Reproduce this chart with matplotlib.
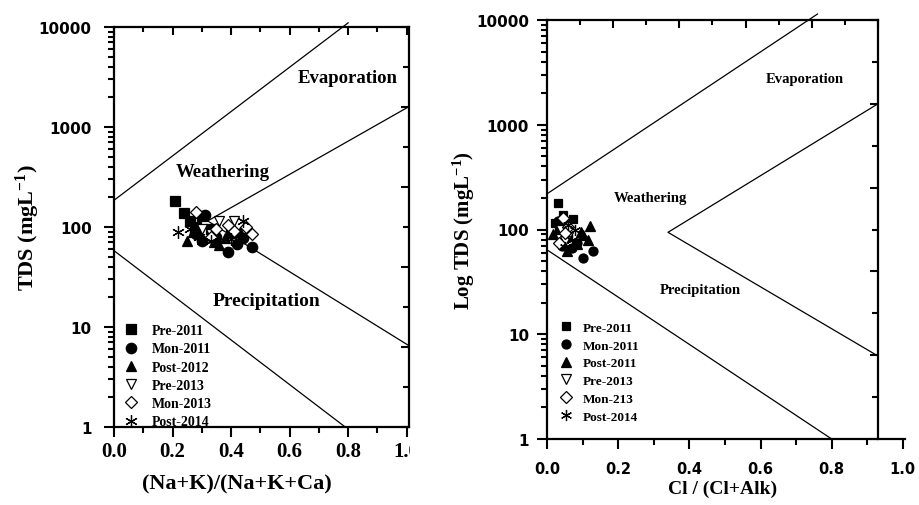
import numpy as np
import matplotlib
matplotlib.use("Agg")
import matplotlib.pyplot as plt
from matplotlib.ticker import LogLocator, NullFormatter
from matplotlib.transforms import Bbox

plt.rcParams["font.family"] = "Liberation Serif"
plt.rcParams["font.weight"] = "bold"
plt.rcParams["mathtext.fontset"] = "custom"
plt.rcParams["mathtext.rm"] = "Liberation Serif:bold"
plt.rcParams["mathtext.it"] = "Liberation Serif:bold"
plt.rcParams["mathtext.bf"] = "Liberation Serif:bold"

# cation plot: (Na+K)/(Na+K+Ca) vs TDS
cat_labels = ["Pre-2011", "Mon-2011", "Post-2012", "Pre-2013", "Mon-2013", "Post-2014"]
cat_pre11_x = [0.21, 0.24, 0.26, 0.30, 0.28, 0.33, 0.40]
cat_pre11_y = [180, 138, 115, 128, 100, 95, 88]
cat_mon11_x = [0.39, 0.47, 0.42, 0.30, 0.35, 0.28, 0.31, 0.44]
cat_mon11_y = [56, 63, 68, 72, 80, 85, 132, 78]
cat_post12_x = [0.25, 0.30, 0.34, 0.38, 0.43, 0.27, 0.36]
cat_post12_y = [72, 75, 70, 78, 90, 90, 66]
cat_pre13_x = [0.36, 0.41, 0.30, 0.33]
cat_pre13_y = [115, 115, 95, 85]
cat_mon13_x = [0.28, 0.35, 0.47, 0.41, 0.33, 0.45, 0.39]
cat_mon13_y = [140, 95, 85, 91, 80, 100, 105]
cat_post14_x = [0.22, 0.44, 0.29, 0.33, 0.40, 0.26]
cat_post14_y = [90, 115, 80, 72, 75, 95]

# anion plot: Cl/(Cl+Alk) vs TDS
an_labels = ["Pre-2011", "Mon-2011", "Post-2011", "Pre-2013", "Mon-213", "Post-2014"]
an_pre11_x = [0.03, 0.022, 0.045, 0.073, 0.05, 0.035]
an_pre11_y = [181, 116, 139, 127, 110, 100]
an_mon11_x = [0.10, 0.13, 0.042, 0.07, 0.055, 0.085, 0.03]
an_mon11_y = [54, 62, 69, 66, 85, 75, 120]
an_post11_x = [0.12, 0.115, 0.095, 0.056, 0.018, 0.085, 0.10]
an_post11_y = [108, 80, 95, 62, 90, 72, 88]
an_pre13_x = [0.04, 0.06, 0.05]
an_pre13_y = [100, 85, 78]
an_mon13_x = [0.045, 0.06, 0.035, 0.05]
an_mon13_y = [130, 105, 75, 92]
an_post14_x = [0.06, 0.07, 0.05, 0.08]
an_post14_y = [110, 80, 68, 100]

# Gibbs boundary lines (x, TDS)
cat_evap_x, cat_evap_y = [0.0, 0.80], [185, 11000]
cat_prec_x, cat_prec_y = [0.0, 0.79], [58, 1]
cat_v_x, cat_v_y = [1.008, 0.32, 1.008], [1600, 115, 6.5]
an_evap_x, an_evap_y = [0.0, 0.76], [219, 11400]
an_prec_x, an_prec_y = [0.0, 0.80], [64, 1]
an_v_x, an_v_y = [0.93, 0.34, 0.93], [1585, 94, 6.2]

MARKERS = [
    ("s", "black"),
    ("o", "black"),
    ("^", "black"),
    ("v", "white"),
    ("D", "white"),
    ((6, 2, 0), "black"),
]

fig = plt.figure(figsize=(9.19, 5.06), dpi=100)
ax1 = fig.add_axes([114 / 919, 1 - 428 / 506, 295 / 919, 400 / 506])
ax2 = fig.add_axes([547 / 919, 1 - 440 / 506, 358 / 919, 419 / 506])


def draw_points(ax, xs, ys, labels, sizes):
    for x, y, lab, (mk, fc), ms in zip(xs, ys, labels, MARKERS, sizes):
        ax.plot(x, y, linestyle="none", marker=mk, markersize=ms,
                markerfacecolor=fc, markeredgecolor="black",
                markeredgewidth=0.9, label=lab, zorder=3)


def setup_axes(ax, xmax, right_at, top_ticks, xlab_font, xlab_size, xpad,
               ypad):
    # spine moves reset the tick objects, so do them before styling ticks
    if right_at is not None:
        ax.spines["right"].set_position(("data", right_at))
        ax.spines["top"].set_bounds(0, right_at)
    ax.set_yscale("log")
    ax.set_ylim(1, 10000)
    ax.set_xlim(0, xmax)
    ax.set_yticks([1, 10, 100, 1000, 10000],
                  labels=["1", "10", "100", "1000", "10000"],
                  fontfamily="DejaVu Sans", fontweight="bold", fontsize=11)
    ax.yaxis.set_minor_locator(LogLocator(base=10, subs=np.arange(2, 10)))
    ax.yaxis.set_minor_formatter(NullFormatter())
    ax.set_xticks(np.arange(0, 1.01, 0.2),
                  labels=["0.0", "0.2", "0.4", "0.6", "0.8", "1.0"],
                  fontfamily=xlab_font, fontweight="bold", fontsize=xlab_size)
    ax.set_xticks(np.arange(0.1, 1.0, 0.2), minor=True)
    ax.tick_params(which="both", direction="out", width=1.5,
                   top=False, right=False)
    ax.tick_params(which="major", length=7)
    ax.tick_params(which="minor", length=4)
    ax.tick_params(axis="x", pad=xpad)
    ax.tick_params(axis="y", pad=ypad)
    for s in ax.spines.values():
        s.set_linewidth(1.6)

    # inward ticks along the top spine
    tw = ax.twiny()
    tw.set_xlim(ax.get_xlim())
    tw.set_xticks(top_ticks[0])
    tw.set_xticks(top_ticks[1], minor=True)
    tw.tick_params(which="both", direction="in", width=1.5, labeltop=False)
    tw.tick_params(which="major", length=6)
    tw.tick_params(which="minor", length=3.5)
    for s in tw.spines.values():
        s.set_visible(False)

    # ten evenly spaced inward ticks along the right spine
    rt = ax.twinx()
    if right_at is not None:
        rt.spines["right"].set_position(("data", right_at))
    rt.set_ylim(0, 10)
    rt.set_yticks([0, 2, 4, 6, 8, 10])
    rt.set_yticks([1, 3, 5, 7, 9], minor=True)
    rt.tick_params(which="both", direction="in", width=1.5, labelright=False)
    rt.tick_params(which="major", length=6)
    rt.tick_params(which="minor", length=4)
    for s in rt.spines.values():
        s.set_visible(False)


# left panel
setup_axes(ax1, 1.008, None,
           (np.arange(0, 1.01, 0.2), np.arange(0.1, 1.0, 0.2)),
           "Liberation Serif", 15, 3, 9)
ax1.plot(cat_evap_x, cat_evap_y, color="black", lw=0.9, clip_on=False)
ax1.plot(cat_prec_x, cat_prec_y, color="black", lw=0.9)
ax1.plot(cat_v_x, cat_v_y, color="black", lw=0.9)
draw_points(ax1,
            [cat_pre11_x, cat_mon11_x, cat_post12_x, cat_pre13_x, cat_mon13_x, cat_post14_x],
            [cat_pre11_y, cat_mon11_y, cat_post12_y, cat_pre13_y, cat_mon13_y, cat_post14_y],
            cat_labels, [6.5, 7.5, 7.5, 7.5, 6.5, 9])
ax1.text(0.80, 3160, "Evaporation", fontsize=13.5, ha="center", va="center")
ax1.text(0.37, 355, "Weathering", fontsize=13.5, ha="center", va="center")
ax1.text(0.52, 18.6, "Precipitation", fontsize=14, ha="center", va="center")
ax1.set_xlabel("(Na+K)/(Na+K+Ca)", fontsize=16, fontweight="bold")
ax1.xaxis.set_label_coords(0.417, -0.115)
ax1.set_ylabel("TDS (mgL$^{-1}$)", fontsize=16, fontweight="bold")
ax1.yaxis.set_label_coords(-0.245, 0.5)
ax1.legend(loc="lower left", bbox_to_anchor=(0.0, -0.028), frameon=False,
           prop=dict(family="Liberation Serif", weight="bold", size=10),
           handlelength=1.0, handletextpad=1.0, labelspacing=0.38,
           borderaxespad=0.3)

# right panel
top_edges = np.linspace(0, 0.93, 11)
setup_axes(ax2, 1.006, 0.93,
           (top_edges[0::2], top_edges[1::2]),
           "DejaVu Sans", 10.5, 9, 6)
ax2.plot(an_evap_x, an_evap_y, color="black", lw=0.9, clip_on=False)
ax2.plot(an_prec_x, an_prec_y, color="black", lw=0.9)
ax2.plot(an_v_x, an_v_y, color="black", lw=0.9)
draw_points(ax2,
            [an_pre11_x, an_mon11_x, an_post11_x, an_pre13_x, an_mon13_x, an_post14_x],
            [an_pre11_y, an_mon11_y, an_post11_y, an_pre13_y, an_mon13_y, an_post14_y],
            an_labels, [5.5, 6.5, 6.5, 6.5, 6, 8])
ax2.text(0.725, 2750, "Evaporation", fontsize=10.5, ha="center", va="center")
ax2.text(0.29, 200, "Weathering", fontsize=10.5, ha="center", va="center")
ax2.text(0.43, 27, "Precipitation", fontsize=10.5, ha="center", va="center")
ax2.set_xlabel("Cl / (Cl+Alk)", fontsize=14, fontweight="bold")
ax2.xaxis.set_label_coords(0.49, -0.097)
ax2.set_ylabel("Log TDS (mgL$^{-1}$)", fontsize=15, fontweight="bold")
ax2.yaxis.set_label_coords(-0.195, 0.5)
ax2.legend(loc="lower left", bbox_to_anchor=(0.01, 0.017), frameon=False,
           prop=dict(family="Liberation Serif", weight="bold", size=9.5),
           handlelength=1.0, handletextpad=0.7, labelspacing=0.42,
           borderaxespad=0.3)

# the left panel is cut just past its right spine
last = ax1.get_xticklabels()[-1]
last.set_clip_box(Bbox.from_extents(0, 0, 410, 506))
last.set_clip_on(True)

fig.savefig("out.png", dpi=100)
